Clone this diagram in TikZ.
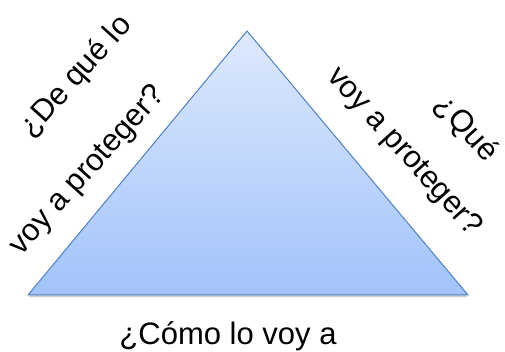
\documentclass[tikz,border=0pt]{standalone}
\usepackage{fontspec}
\setmainfont{Liberation Sans}
\usetikzlibrary{shadows}
\definecolor{edgeblue}{RGB}{79,129,189}
\definecolor{topblue}{RGB}{222,233,253}
\definecolor{basblue}{RGB}{162,195,250}

\begin{document}
\begin{tikzpicture}[x=1pt,y=1pt,
    lbl/.style={font=\fontsize{31}{37}\selectfont, inner sep=0pt}]
          \useasboundingbox (0,0) rectangle (505,352);
          % Corners
          \coordinate (apex) at (247,321);
          \coordinate (left) at (28,57);
          \coordinate (right) at (468,57);
          % Triangle
          \draw[edgeblue, line width=1pt, top color=topblue, bottom color=basblue,
                drop shadow={opacity=0.35, shadow xshift=0pt, shadow yshift=-2.5pt}]
                (left) -- (apex) -- (right) -- cycle;
          % Left side
          \node[lbl, rotate=48] (dequelo) at (76,275) {¿De qué lo};
          \node[lbl, rotate=48] (protizq) at (88,181) {voy a proteger?};
          % Right side
          \node[lbl, rotate=-48] (que) at (466,223) {¿Qué};
          \node[lbl, rotate=-48] (protder) at (404,200) {voy a proteger?};
          % Base
          \node[lbl, anchor=base] (como) at (228,7) {¿Cómo lo voy a};
        \end{tikzpicture}
\end{document}
